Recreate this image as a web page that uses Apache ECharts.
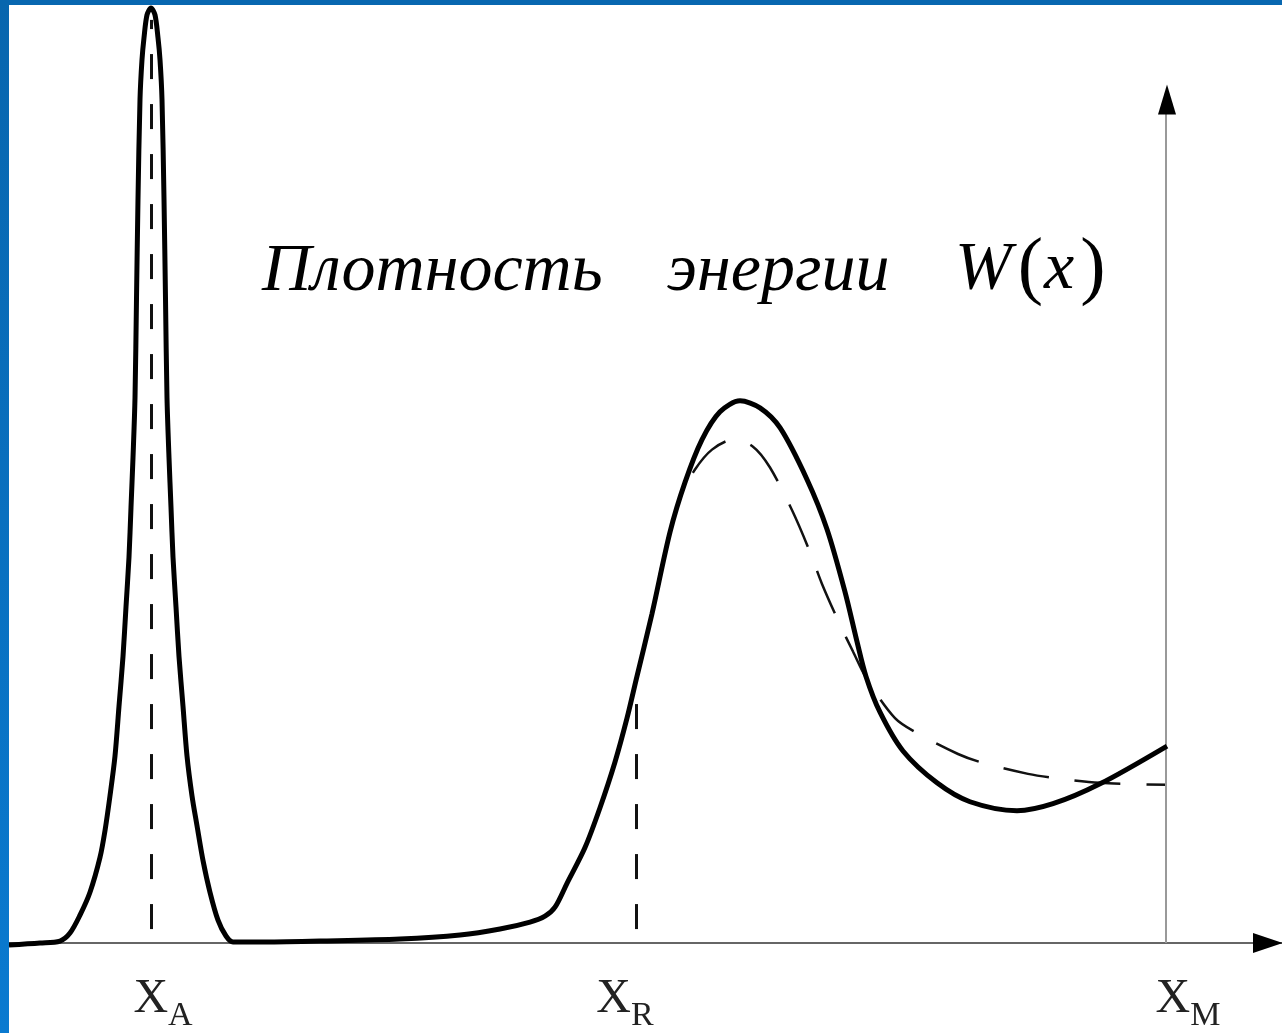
<!DOCTYPE html>
<html>
<head>
<meta charset="utf-8">
<script src="https://cdn.jsdelivr.net/npm/echarts@6/dist/echarts.min.js"></script>
<style>
  html, body { margin: 0; padding: 0; background: #fff; }
  #chart { width: 1282px; height: 1033px; }
</style>
</head>
<body>
<div id="chart"></div>
<script>
// solid curve W(x): x position, height above the x axis
var xSolid = [9, 40, 60, 70, 80, 90, 100, 105, 110, 115, 119, 123, 126, 129, 131, 133, 135, 136.5, 138, 140, 142, 144, 147, 151,
  155, 158, 160, 162, 164, 165.5, 167, 169, 171, 173, 176, 179, 183, 187, 192, 197, 203, 210, 218, 226, 233,
  260, 320, 400, 460, 500, 530, 545, 555, 567, 585, 600, 615, 627, 636, 652, 670, 685, 702, 720, 740,
  760, 780, 807, 827, 845, 857, 866, 880, 903, 937, 970, 1017, 1053, 1100, 1167];
var ySolid = [-2, 0, 2, 10, 28, 51, 86, 113, 148, 188, 238, 288, 338, 388, 438, 488, 548, 648, 748, 848, 888, 910, 933, 940,
  933, 910, 888, 848, 748, 648, 548, 488, 438, 388, 338, 288, 238, 188, 148, 118, 83, 51, 23, 7, 1,
  1, 2, 4, 8, 14, 21, 27, 36, 60, 96, 136, 182, 226, 264, 331, 413, 463, 506, 534, 545,
  538, 518, 466, 416, 353, 303, 268, 232, 193, 161, 142, 133, 140, 160, 198];

// dashed curve
var xDash = [636, 652, 665, 680, 695, 712, 733, 753, 770, 793, 810, 822, 840, 853, 867, 895, 917, 958, 983, 1028, 1053, 1100, 1167];
var yDash = [264, 331, 395, 448, 476, 496, 506, 499, 478, 433, 393, 361, 320, 293, 265, 226, 211, 190, 181, 170, 166, 161, 159];

// marked positions on the x axis
var markX = [151, 636, 1166];
var markSub = ['A', 'R', 'M'];
var markTop = [928, 264];     // top of dashed guide lines (X_A, X_R)
var guideBottom = 14;
var yArrowTop = 848;          // vertical axis arrow center

function pairs(xs, ys) {
  return xs.map(function (x, i) { return [x, ys[i]]; });
}

var serifItalic = { fontFamily: 'Liberation Serif', fontStyle: 'italic', fontWeight: 'normal', fontSize: 68, color: '#000' };

var chart = echarts.init(document.getElementById('chart'));

var option = {
  backgroundColor: '#fff',
  animation: false,
  title: [
    { text: 'Плотность', left: 262, top: 238, padding: 0, textStyle: serifItalic },
    { text: 'энергии', left: 667, top: 238, padding: 0, textStyle: serifItalic },
    { text: '{i|W}{p|(}{i|x}{p|)}', left: 955, top: 232, padding: 0,
      textStyle: {
        fontWeight: 'normal',
        rich: {
          i: { fontFamily: 'Liberation Serif', fontStyle: 'italic', fontWeight: 'normal', fontSize: 68, color: '#000', padding: [0, 3, 0, 0] },
          p: { fontFamily: 'Liberation Serif', fontStyle: 'normal', fontWeight: 'normal', fontSize: 76, color: '#000', padding: [0, 1, 0, 3] }
        }
      } }
  ],
  grid: { left: 0, right: 0, top: 0, bottom: 85 },
  xAxis: {
    type: 'value',
    min: 0,
    max: 1282,
    splitLine: { show: false },
    axisTick: { show: false },
    axisLine: { show: true, onZero: false, lineStyle: { color: '#666', width: 2 } },
    axisLabel: {
      show: true,
      customValues: markX,
      margin: 32,
      formatter: function (v) {
        var i = markX.indexOf(v);
        return '{x' + i + '|X}{s' + i + '|' + markSub[i] + '}';
      },
      rich: {
        x0: { fontFamily: 'Liberation Serif', fontSize: 48, color: '#222', verticalAlign: 'bottom', padding: [0, 0, 10, 24] },
        x1: { fontFamily: 'Liberation Serif', fontSize: 48, color: '#222', verticalAlign: 'bottom', padding: [0, 0, 10, 0] },
        x2: { fontFamily: 'Liberation Serif', fontSize: 48, color: '#222', verticalAlign: 'bottom', padding: [0, 0, 10, 44] },
        s0: { fontFamily: 'Liberation Serif', fontSize: 34, color: '#222', verticalAlign: 'bottom' },
        s1: { fontFamily: 'Liberation Serif', fontSize: 34, color: '#222', verticalAlign: 'bottom', padding: [0, 22, 0, 0] },
        s2: { fontFamily: 'Liberation Serif', fontSize: 34, color: '#222', verticalAlign: 'bottom' }
      }
    }
  },
  yAxis: {
    type: 'value',
    min: 0,
    max: 948,
    show: false
  },
  graphic: [
    { type: 'rect', left: 0, top: 0, z: 100, shape: { width: 1282, height: 5 }, style: { fill: '#0867b0' } },
    { type: 'rect', left: 0, top: 0, z: 100, shape: { width: 9, height: 1033 },
      style: { fill: new echarts.graphic.LinearGradient(0, 0, 0, 1, [
        { offset: 0, color: '#0866ae' }, { offset: 1, color: '#0a7ad0' }]) } }
  ],
  series: [
    {
      name: 'W(x)',
      type: 'line',
      data: pairs(xSolid, ySolid),
      smooth: 0.3,
      showSymbol: false,
      clip: false,
      lineStyle: { color: '#000', width: 5 },
      z: 5,
      markLine: {
        silent: true,
        symbol: 'none',
        label: { show: false },
        data: [
          [{ coord: [markX[0], guideBottom] }, { coord: [markX[0], markTop[0]] }],
          [{ coord: [markX[1], guideBottom] }, { coord: [markX[1], markTop[1]] }]
        ],
        lineStyle: { color: '#111', width: 3, type: [25, 25] }
      }
    },
    {
      name: 'dashed',
      type: 'line',
      data: pairs(xDash, yDash),
      smooth: 0.3,
      showSymbol: false,
      clip: false,
      lineStyle: { color: '#111', width: 2.5, type: [46, 26] },
      z: 4
    },
    {
      name: 'axis',
      type: 'line',
      data: [],
      markLine: {
        silent: true,
        symbol: 'none',
        label: { show: false },
        data: [
          [{ coord: [markX[2], 0] }, { coord: [markX[2], yArrowTop - 10] }]
        ],
        lineStyle: { color: '#999', width: 2, type: 'solid' }
      },
      markPoint: {
        silent: true,
        label: { show: false },
        data: [
          { coord: [markX[2] + 1, yArrowTop], symbol: 'triangle', symbolSize: [18, 30], itemStyle: { color: '#000' } },
          { coord: [1268, 0], symbol: 'triangle', symbolSize: [20, 30], symbolRotate: -90, itemStyle: { color: '#000' } }
        ]
      }
    }
  ]
};

chart.setOption(option);
</script>
</body>
</html>
